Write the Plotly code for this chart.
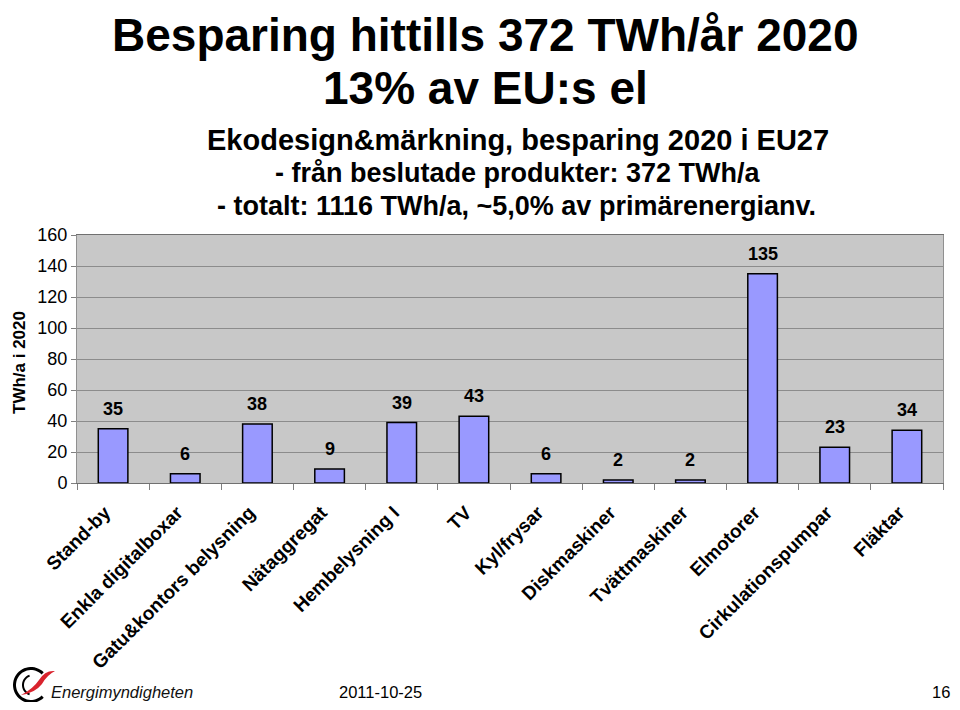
import math
import plotly.graph_objects as go

categories = ["Stand-by", "Enkla digitalboxar", "Gatu&kontors belysning", "Nätaggregat",
              "Hembelysning I", "TV", "Kyl/frysar", "Diskmaskiner", "Tvättmaskiner",
              "Elmotorer", "Cirkulationspumpar", "Fläktar"]
values = [35, 6, 38, 9, 39, 43, 6, 2, 2, 135, 23, 34]
y_ticks = [0, 20, 40, 60, 80, 100, 120, 140, 160]

FONT = "Arial, Liberation Sans, sans-serif"
OFF = 8  # page body margin
W, H = 960 - 2 * OFF, 710 - 2 * OFF
L, R, T, B = 77, 943, 235, 483  # plot area in screen pixels


def px(x):
    return (x - L) / (R - L)


def py(y):
    return (B - y) / (B - T)


def P(x, y):
    return f"{px(x):.5f},{py(y):.5f}"


fig = go.Figure()
fig.add_trace(go.Bar(
    x=categories, y=values,
    marker=dict(color="#9999FF", line=dict(color="black", width=1.5)),
    width=0.41,
    hoverinfo="x+y",
))

annotations = []
for c, v in zip(categories, values):
    annotations.append(dict(x=c, y=v, text=str(v), showarrow=False, xref="x", yref="y",
                            yanchor="bottom", yshift=8,
                            font=dict(family=FONT, size=18, color="black", weight="bold")))


def txt(x, y, s, size, bold=True, xanchor="center", yanchor="middle", angle=0, color="black"):
    return dict(x=px(x), y=py(y), text=s, showarrow=False, xref="paper", yref="paper",
                xanchor=xanchor, yanchor=yanchor, textangle=angle, borderpad=0,
                font=dict(family=FONT, size=size, color=color,
                          weight="bold" if bold else "normal"))


annotations += [
    txt(485, 8, "Besparing hittills 372 TWh/år 2020", 46, yanchor="top"),
    txt(485, 61, "13% av EU:s el", 46, yanchor="top"),
    txt(518, 140, "Ekodesign&märkning, besparing 2020 i EU27", 29),
    txt(518, 173, "- från beslutade produkter: 372 TWh/a", 27),
    txt(516, 206, "- totalt: 1116 TWh/a, ~5,0% av primärenergianv.", 27),
    txt(380, 702, "2011-10-25", 16.5, bold=False, yanchor="bottom"),
    txt(951, 702, "16", 16.5, bold=False, xanchor="right", yanchor="bottom"),
    txt(50, 702, "<i>Energimyndigheten</i>", 16.5, bold=False, xanchor="left", yanchor="bottom",
        color="#111111"),
    txt(19, 363, "TWh/a i 2020", 17, angle=-90),
]


def arc_path(cx, cy, r_out, r_in, a0, a1, n=40):
    pts = []
    for i in range(n + 1):
        a = math.radians(a0 + (a1 - a0) * i / n)
        pts.append((cx + r_out * math.cos(a), cy - r_out * math.sin(a)))
    for i in range(n, -1, -1):
        a = math.radians(a0 + (a1 - a0) * i / n)
        pts.append((cx + r_in * math.cos(a), cy - r_in * math.sin(a)))
    return "M " + " L ".join(P(x, y) for x, y in pts) + " Z"


shapes = [
    dict(type="path", xref="paper", yref="paper",
         path=arc_path(31, 685, 18, 15, 45, 315), fillcolor="black", line=dict(width=0)),
    dict(type="path", xref="paper", yref="paper",
         path=arc_path(33, 685, 11, 9, 110, 250), fillcolor="black", line=dict(width=0)),
    dict(type="path", xref="paper", yref="paper",
         path=f"M {P(21,695)} Q {P(33,689)} {P(39,680)} Q {P(45,670)} {P(55,671)} "
              f"Q {P(47,675)} {P(42,684)} Q {P(35,693)} {P(21,695)} Z",
         fillcolor="#d9232d", line=dict(width=0)),
]

fig.update_layout(
    width=W, height=H,
    margin=dict(l=L - OFF, r=(OFF + W) - R, t=T - OFF, b=(OFF + H) - B, autoexpand=False),
    paper_bgcolor="white",
    plot_bgcolor="#C8C8C8",
    showlegend=False,
    annotations=annotations,
    shapes=shapes,
    font=dict(family=FONT, color="black"),
    xaxis=dict(
        type="category", tickangle=-45, tickson="boundaries",
        ticks="outside", ticklen=6, tickcolor="#808080",
        ticklabelstandoff=10, ticklabelshift=-8,
        tickfont=dict(family=FONT, size=19, color="black", weight="bold"),
        showline=True, linecolor="#707070", linewidth=1, mirror=True,
        showgrid=False, fixedrange=True,
    ),
    yaxis=dict(
        range=[0, 160], tickvals=y_ticks, ticks="outside", ticklen=5, tickcolor="#808080",
        tickfont=dict(family=FONT, size=18, color="black"),
        showline=True, linecolor="#909090", linewidth=1, mirror=True,
        showgrid=True, gridcolor="#8C8C8C", gridwidth=1, zeroline=False, fixedrange=True,
    ),
)

fig.write_html("out.html")
